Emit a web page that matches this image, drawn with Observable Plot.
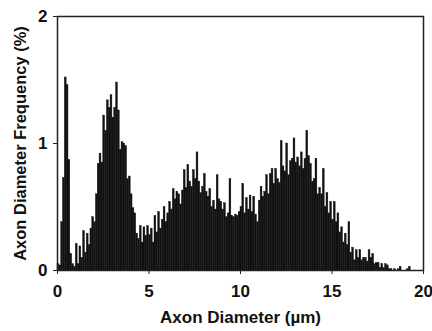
<!DOCTYPE html>
<html><head><meta charset="utf-8">
<script src="https://cdn.jsdelivr.net/npm/d3@7"></script>
<script src="https://cdn.jsdelivr.net/npm/@observablehq/plot@0.6"></script>
<style>body{margin:0;background:#fff}</style>
</head><body><div id="chart"></div>
<script>
const binWidth = 0.1; // µm per bin, bins start at 0
const freq = [
  0.05,0.04,0.38,0.73,1.52,1.46,0.87,0.13,0.05,0.03,
  0.21,0.05,0.19,0.10,0.31,0.14,0.29,0.20,0.33,0.42,
  0.38,0.60,0.84,0.92,0.85,1.22,1.10,1.34,1.28,1.38,
  1.20,1.28,1.48,1.26,0.95,1.01,1.00,0.98,0.72,0.74,
  0.60,0.49,0.45,0.29,0.25,0.35,0.22,0.34,0.27,0.35,
  0.28,0.33,0.22,0.43,0.30,0.46,0.33,0.40,0.50,0.38,
  0.45,0.54,0.48,0.64,0.56,0.62,0.60,0.52,0.63,0.79,
  0.65,0.83,0.70,0.66,0.79,0.72,0.93,0.70,0.61,0.66,
  0.76,0.62,0.58,0.64,0.50,0.55,0.48,0.75,0.56,0.54,
  0.48,0.53,0.42,0.45,0.72,0.43,0.42,0.44,0.43,0.46,
  0.50,0.68,0.45,0.57,0.48,0.59,0.46,0.58,0.44,0.38,
  0.55,0.66,0.58,0.62,0.75,0.60,0.76,0.80,0.68,0.80,
  0.72,0.69,1.02,0.82,0.78,1.00,0.75,0.86,0.88,1.04,
  0.85,0.89,0.82,0.93,0.80,0.88,1.10,0.90,0.84,0.70,
  0.72,0.88,0.60,0.65,0.60,0.80,0.50,0.61,0.45,0.54,
  0.40,0.54,0.38,0.45,0.30,0.34,0.22,0.29,0.20,0.38,
  0.14,0.18,0.08,0.16,0.10,0.16,0.08,0.10,0.10,0.07,
  0.16,0.10,0.13,0.05,0.06,0.06,0.02,0.05,0.02,0.05,
  0.04,0.01,0.01,0.00,0.01,0.00,0.01,0.03,0.00,0.00,
  0.00,0.01,0.03,0.00,0.00,0.00,0.00,0.00,0.00,0.00
];
const xTicks = [0, 5, 10, 15, 20];
const yTicks = [0, 1, 2];
const xTitle = "Axon Diameter (µm)";
const yTitle = "Axon Diameter Frequency (%)";

const bins = freq.map((v, i) => ({x1: i * binWidth, x2: (i + 1) * binWidth, y: v}));
const font = "'Liberation Sans', Arial, sans-serif";

const chart = Plot.plot({
  width: 432, height: 331,
  marginLeft: 57, marginRight: 9, marginTop: 16, marginBottom: 61,
  x: {domain: [0, 20]},
  y: {domain: [0, 2]},
  style: {fontFamily: font, fontSize: "17px", fontWeight: "bold", color: "#111", background: "#fff"},
  marks: [
    Plot.rectY(bins, {x1: "x1", x2: "x2", y: "y", fill: "#111", stroke: "#111", strokeWidth: 0.4}),
    Plot.frame({stroke: "#222", strokeWidth: 1.5}),
    Plot.axisX({ticks: xTicks, tickSize: 4, tickPadding: 10, tickFormat: d => String(d), label: null, stroke: "#222"}),
    Plot.axisY({ticks: yTicks, tickSize: 4, tickPadding: 6, tickFormat: d => String(d), label: null, stroke: "#222"}),
    Plot.text([xTitle], {frameAnchor: "bottom", dy: 47, text: d => d, lineAnchor: "middle", fontSize: 17, fontWeight: "bold", fill: "#111"}),
    Plot.text([yTitle], {frameAnchor: "left", dx: -37, rotate: -90, text: d => d, textAnchor: "middle", lineAnchor: "middle", fontSize: 16.5, fontWeight: "bold", fill: "#111"})
  ]
});
document.getElementById("chart").appendChild(chart);
</script>
</body></html>
